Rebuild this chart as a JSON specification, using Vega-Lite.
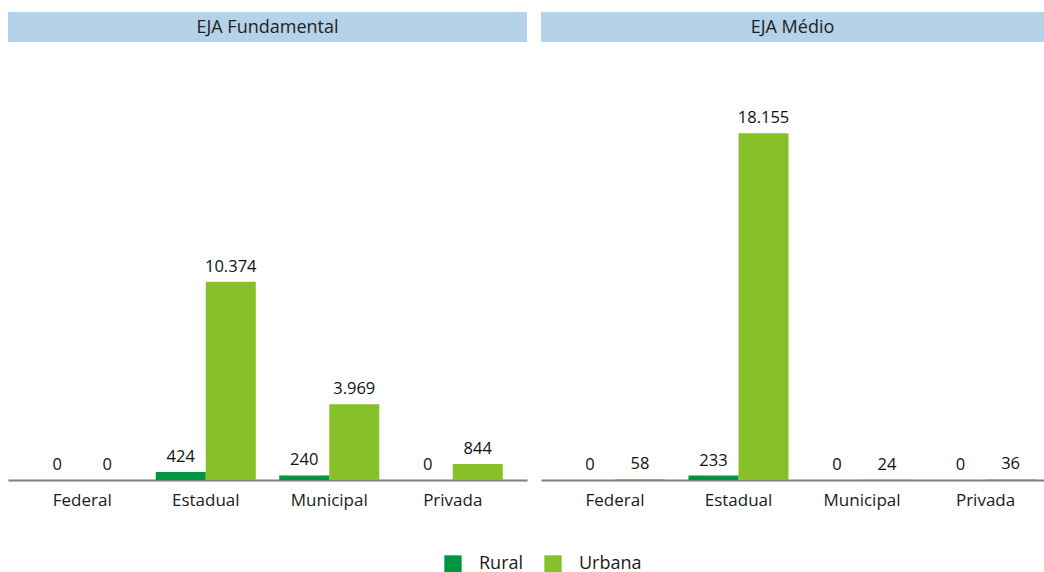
{
  "$schema": "https://vega.github.io/schema/vega-lite/v6.json",
  "padding": {"top": 12, "left": 8, "right": 0, "bottom": 0},
  "background": "white",
  "datasets": {
    "matriculas": [
      {"modalidade": "EJA Fundamental", "dependencia": "Federal", "localizacao": "Rural", "valor": 0},
      {"modalidade": "EJA Fundamental", "dependencia": "Federal", "localizacao": "Urbana", "valor": 0},
      {"modalidade": "EJA Fundamental", "dependencia": "Estadual", "localizacao": "Rural", "valor": 424},
      {"modalidade": "EJA Fundamental", "dependencia": "Estadual", "localizacao": "Urbana", "valor": 10374},
      {"modalidade": "EJA Fundamental", "dependencia": "Municipal", "localizacao": "Rural", "valor": 240},
      {"modalidade": "EJA Fundamental", "dependencia": "Municipal", "localizacao": "Urbana", "valor": 3969},
      {"modalidade": "EJA Fundamental", "dependencia": "Privada", "localizacao": "Rural", "valor": 0},
      {"modalidade": "EJA Fundamental", "dependencia": "Privada", "localizacao": "Urbana", "valor": 844},
      {"modalidade": "EJA Médio", "dependencia": "Federal", "localizacao": "Rural", "valor": 0},
      {"modalidade": "EJA Médio", "dependencia": "Federal", "localizacao": "Urbana", "valor": 58},
      {"modalidade": "EJA Médio", "dependencia": "Estadual", "localizacao": "Rural", "valor": 233},
      {"modalidade": "EJA Médio", "dependencia": "Estadual", "localizacao": "Urbana", "valor": 18155},
      {"modalidade": "EJA Médio", "dependencia": "Municipal", "localizacao": "Rural", "valor": 0},
      {"modalidade": "EJA Médio", "dependencia": "Municipal", "localizacao": "Urbana", "valor": 24},
      {"modalidade": "EJA Médio", "dependencia": "Privada", "localizacao": "Rural", "valor": 0},
      {"modalidade": "EJA Médio", "dependencia": "Privada", "localizacao": "Urbana", "valor": 36}
    ]
  },
  "config": {
    "locale": {"number": {"decimal": ",", "thousands": ".", "grouping": [3], "currency": ["R$", ""]}},
    "font": "Open Sans",
    "view": {"stroke": null},
    "legend": {
      "orient": "none",
      "legendX": 436,
      "legendY": 543,
      "direction": "horizontal",
      "title": null,
      "symbolType": "square",
      "symbolSize": 300,
      "symbolStrokeWidth": 0,
      "labelFontSize": 18,
      "labelColor": "#1a1a1a",
      "labelOffset": 17,
      "columnPadding": 20
    }
  },
  "hconcat": [
    {
      "spacing": 56,
      "vconcat": [
        {
          "width": 519,
          "height": 30,
          "view": {"fill": "#b4d2e8", "stroke": null},
          "data": {"values": [{"t": "EJA Fundamental"}]},
          "mark": {"type": "text", "fontSize": 18, "color": "#222222", "dy": 1},
          "encoding": {"text": {"field": "t", "type": "nominal"}}
        },
        {
          "width": 519,
          "height": 382,
          "data": {"name": "matriculas"},
          "transform": [{"filter": "datum.modalidade === 'EJA Fundamental'"}],
          "encoding": {
            "x": {
              "field": "dependencia", "type": "nominal",
              "sort": ["Federal", "Estadual", "Municipal", "Privada"],
              "scale": {"paddingInner": 0.19, "paddingOuter": 0.196, "align": 0.5},
              "axis": {"title": null, "labelAngle": 0, "ticks": false, "domainColor": "#7f7f7f", "domainWidth": 2, "labelFontSize": 17, "labelColor": "#1a1a1a", "labelPadding": 12}
            },
            "xOffset": {"field": "localizacao", "type": "nominal", "sort": ["Rural", "Urbana"]},
            "y": {"field": "valor", "type": "quantitative", "scale": {"domain": [0, 20000], "nice": false}, "axis": null}
          },
          "layer": [
            {
              "mark": {"type": "bar"},
              "encoding": {
                "color": {"field": "localizacao", "type": "nominal", "scale": {"domain": ["Rural", "Urbana"], "range": ["#009540", "#86c12a"]}}
              }
            },
            {
              "mark": {"type": "text", "baseline": "bottom", "dy": -7, "fontSize": 16.5, "color": "#111111"},
              "encoding": {"text": {"field": "valor", "type": "quantitative", "format": ",d"}}
            }
          ]
        }
      ]
    },
    {
      "spacing": 56,
      "vconcat": [
        {
          "width": 503,
          "height": 30,
          "view": {"fill": "#b4d2e8", "stroke": null},
          "data": {"values": [{"t": "EJA Médio"}]},
          "mark": {"type": "text", "fontSize": 18, "color": "#222222", "dy": 1},
          "encoding": {"text": {"field": "t", "type": "nominal"}}
        },
        {
          "width": 503,
          "height": 382,
          "data": {"name": "matriculas"},
          "transform": [{"filter": "datum.modalidade === 'EJA Médio'"}],
          "encoding": {
            "x": {
              "field": "dependencia", "type": "nominal",
              "sort": ["Federal", "Estadual", "Municipal", "Privada"],
              "scale": {"paddingInner": 0.19, "paddingOuter": 0.131, "align": 0.74},
              "axis": {"title": null, "labelAngle": 0, "ticks": false, "domainColor": "#7f7f7f", "domainWidth": 2, "labelFontSize": 17, "labelColor": "#1a1a1a", "labelPadding": 12}
            },
            "xOffset": {"field": "localizacao", "type": "nominal", "sort": ["Rural", "Urbana"]},
            "y": {"field": "valor", "type": "quantitative", "scale": {"domain": [0, 20000], "nice": false}, "axis": null}
          },
          "layer": [
            {
              "mark": {"type": "bar"},
              "encoding": {
                "color": {"field": "localizacao", "type": "nominal", "scale": {"domain": ["Rural", "Urbana"], "range": ["#009540", "#86c12a"]}}
              }
            },
            {
              "mark": {"type": "text", "baseline": "bottom", "dy": -7, "fontSize": 16.5, "color": "#111111"},
              "encoding": {"text": {"field": "valor", "type": "quantitative", "format": ",d"}}
            }
          ]
        }
      ]
    }
  ],
  "spacing": 14,
  "resolve": {"scale": {"x": "independent", "xOffset": "independent", "y": "shared", "color": "shared"}}
}
